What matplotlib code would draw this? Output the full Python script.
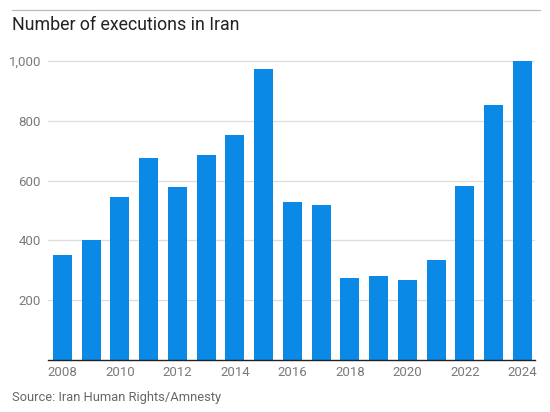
import matplotlib
matplotlib.use("Agg")
import matplotlib.pyplot as plt
from matplotlib.lines import Line2D

# Data
years = [2008, 2009, 2010, 2011, 2012, 2013, 2014, 2015, 2016,
         2017, 2018, 2019, 2020, 2021, 2022, 2023, 2024]
executions = [350, 402, 546, 676, 580, 687, 753, 972, 530,
              517, 273, 280, 267, 333, 582, 853, 1000]
y_ticks = [200, 400, 600, 800, 1000]
y_labels = ["200", "400", "600", "800", "1,000"]
x_tick_years = [2008, 2010, 2012, 2014, 2016, 2018, 2020, 2022, 2024]

plt.rcParams["font.family"] = ["Roboto", "DejaVu Sans"]

fig = plt.figure(figsize=(5.5, 4.12), dpi=100)
ax = fig.add_axes([48 / 550, 52 / 412, 487 / 550, 302 / 412])

ax.bar(years, executions, width=0.66, color="#0a89e6", zorder=2)

ax.set_xlim(2008 - 0.5, 2024 + 0.44)
ax.set_ylim(0, 1010)
ax.set_yticks(y_ticks)
ax.set_yticklabels(y_labels)
ax.set_xticks(x_tick_years)
ax.grid(axis="y", color="#dddddd", linewidth=0.9, zorder=0)

for side in ["top", "right", "left"]:
    ax.spines[side].set_visible(False)
ax.spines["bottom"].set_color("#222222")
ax.spines["bottom"].set_linewidth(1.0)
ax.tick_params(axis="both", length=0, labelsize=9.5, colors="#7a7a7a")
ax.tick_params(axis="y", pad=5)
ax.tick_params(axis="x", pad=4)

# top rule, title and source
fig.add_artist(Line2D([12 / 550, 540 / 550], [1 - 10 / 412, 1 - 10 / 412],
                      color="#bbbbbb", linewidth=0.9))
fig.text(12 / 550, 1 - 25 / 412, "Number of executions in Iran",
         fontsize=12.8, color="#222222", va="center", ha="left")
fig.text(12 / 550, 1 - 398 / 412, "Source: Iran Human Rights/Amnesty",
         fontsize=9.3, color="#666666", va="center", ha="left")

fig.savefig("out.png", dpi=100)
